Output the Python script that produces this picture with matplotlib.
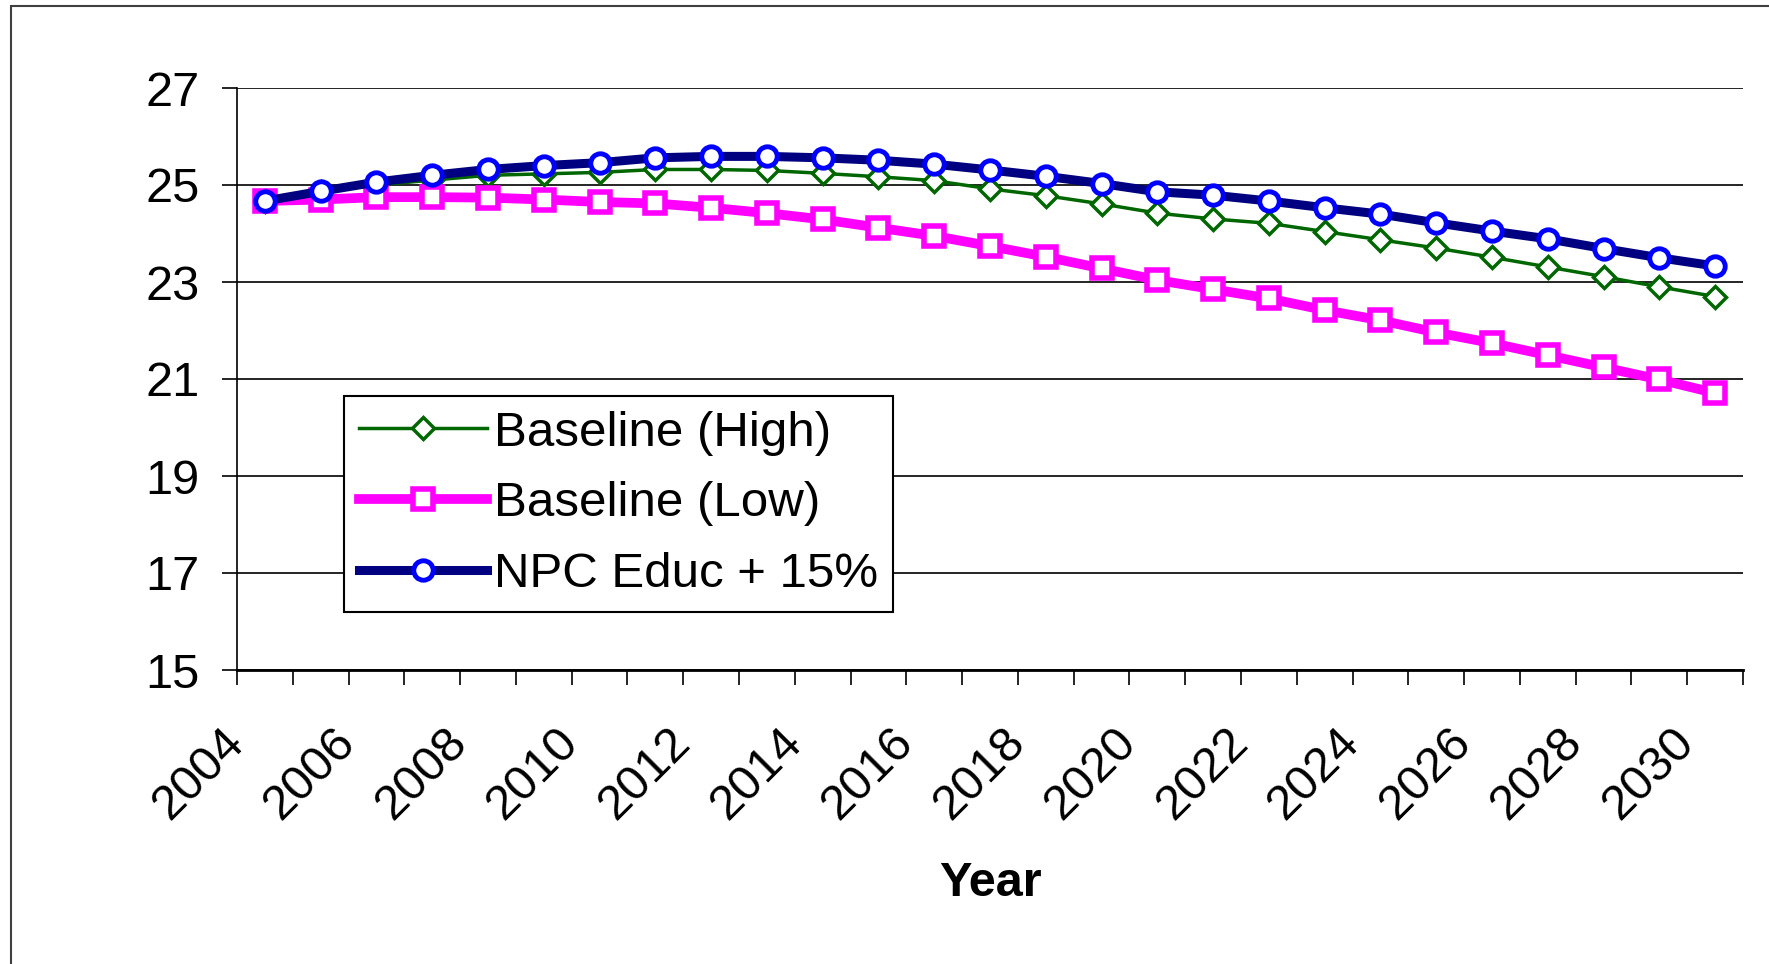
import numpy as np
import matplotlib.pyplot as plt
from matplotlib.patches import Rectangle

years = list(range(2004, 2031))
tick_labels = [str(y) if y % 2 == 0 else '' for y in years] + ['']

baseline_high = [24.67, 24.86, 25.00, 25.10, 25.20, 25.23, 25.26, 25.32, 25.32, 25.30,
                 25.24, 25.17, 25.09, 24.92, 24.78, 24.61, 24.42, 24.30, 24.21, 24.04,
                 23.87, 23.70, 23.51, 23.31, 23.11, 22.90, 22.70]
baseline_low = [24.67, 24.70, 24.75, 24.75, 24.74, 24.70, 24.65, 24.62, 24.53, 24.42,
                24.29, 24.12, 23.95, 23.74, 23.52, 23.28, 23.04, 22.85, 22.66, 22.42,
                22.21, 21.96, 21.74, 21.49, 21.24, 20.99, 20.71]
npc_educ = [24.67, 24.87, 25.06, 25.20, 25.32, 25.40, 25.46, 25.56, 25.59, 25.59,
            25.56, 25.51, 25.43, 25.31, 25.18, 25.03, 24.86, 24.79, 24.67, 24.53,
            24.40, 24.22, 24.05, 23.89, 23.69, 23.50, 23.33]

plt.rcParams['font.family'] = ['Liberation Sans', 'DejaVu Sans']

W, H = 1769, 964
fig = plt.figure(figsize=(W / 100, H / 100), dpi=100)
fig.patches.append(Rectangle((11 / W, -0.1), 1.2, 1.1 - 6 / H, transform=fig.transFigure,
                             fill=False, edgecolor='#404040', linewidth=1.5))

ax = fig.add_axes([237 / W, 1 - 670 / H, (1743 - 237) / W, (670 - 88) / H])
x = np.arange(len(years))

ax.plot(x, baseline_high, color='#006600', linewidth=2.5, marker='D', markersize=11,
        markerfacecolor='white', markeredgecolor='#006600', markeredgewidth=2.5,
        label='Baseline (High)')
ax.plot(x, baseline_low, color='#FF00FF', linewidth=7, marker='s', markersize=15,
        markerfacecolor='white', markeredgecolor='#FF00FF', markeredgewidth=4,
        label='Baseline (Low)')
ax.plot(x, npc_educ, color='#000080', linewidth=6.5, marker='o', markersize=14,
        markerfacecolor='white', markeredgecolor='#0000FF', markeredgewidth=3.5,
        label='NPC Educ + 15%')

ax.set_xlim(-0.5, len(years) - 0.5)
ax.set_ylim(15, 27)
ax.set_yticks(range(15, 28, 2))
ax.grid(axis='y', color='black', linewidth=1.2)
ax.set_axisbelow(True)

# tick marks on category boundaries, even-year labels sit on the boundary left of the point
ax.set_xticks(np.arange(-0.5, len(years), 1.0))
ax.set_xticklabels(tick_labels, rotation=45, ha='right', va='center',
                   rotation_mode='anchor', fontsize=35)
ax.tick_params(axis='x', direction='out', length=11, width=1.2, pad=36)
ax.tick_params(axis='y', direction='out', length=11, width=1.2, labelsize=35, pad=16)

for side in ['top', 'right']:
    ax.spines[side].set_visible(False)
ax.spines['left'].set_linewidth(1.2)
ax.spines['bottom'].set_linewidth(2)

ax.set_xlabel('Year', fontsize=35, fontweight='bold', labelpad=24)

leg = ax.legend(loc='upper left', bbox_to_anchor=(0.071, 0.471), borderaxespad=0,
                fontsize=35.5, handlelength=2.6, handletextpad=0.15, labelspacing=0.52,
                borderpad=0.3, fancybox=False, framealpha=1, edgecolor='black')
leg.get_frame().set_linewidth(1.5)

plt.savefig('out.png', dpi=100)
